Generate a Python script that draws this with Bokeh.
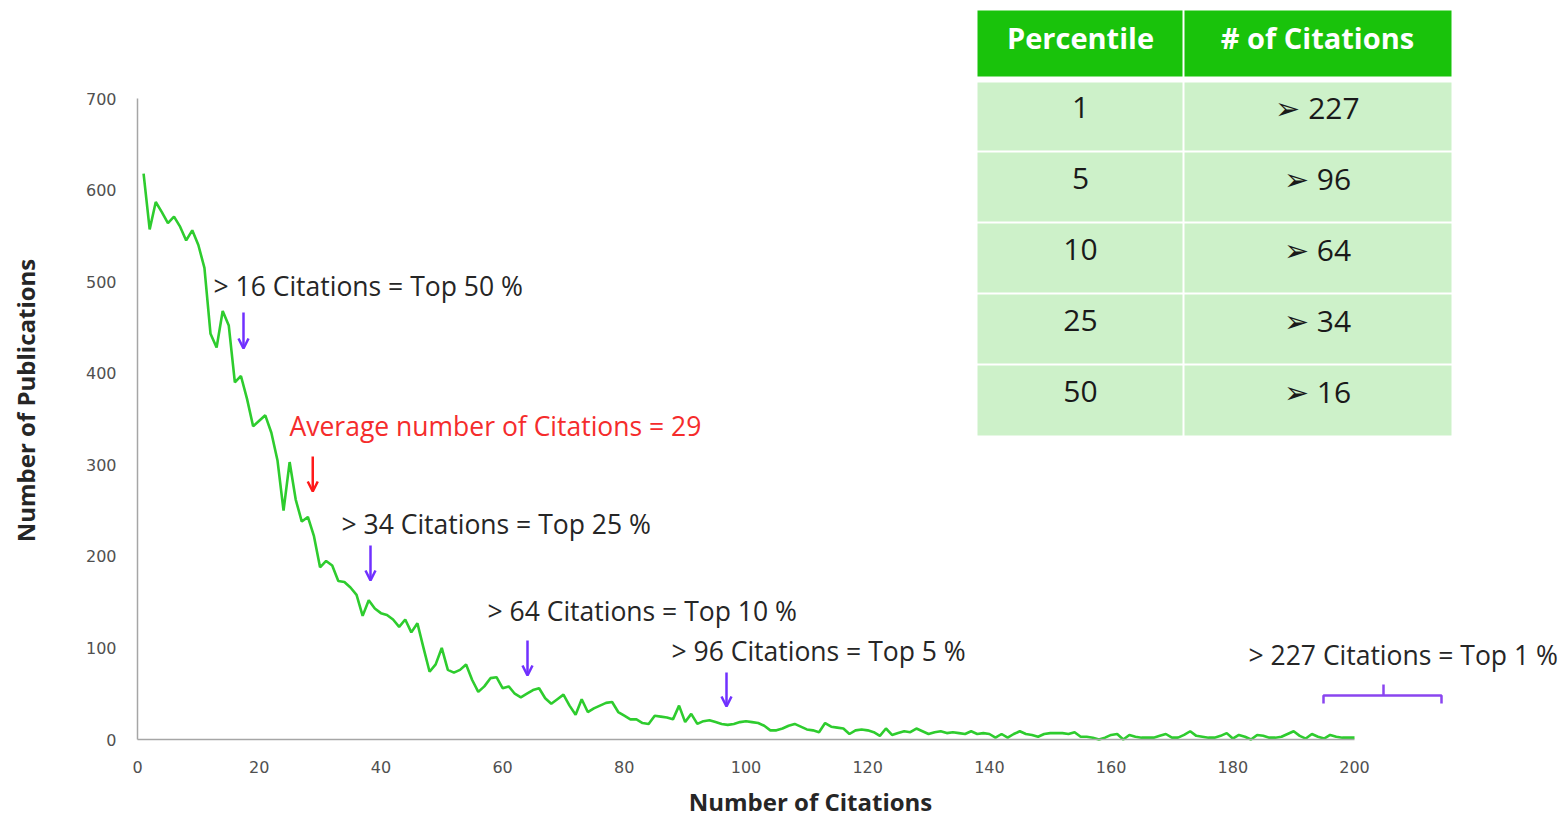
import numpy as np
from bokeh.plotting import figure
from bokeh.models import Range1d, FixedTicker, Arrow, OpenHead, ColumnDataSource, Label
from bokeh.core.properties import value
from bokeh.embed import file_html
from bokeh.resources import INLINE

# ---------------- data ----------------
citations = list(range(1, 201))
publications = [
    618, 557, 587, 576, 564, 571, 560, 545, 556, 540,   # 1-10
    515, 443, 428, 468, 452, 390, 397, 372, 342, 348,   # 11-20
    354, 335, 305, 250, 303, 262, 238, 243, 222, 188,   # 21-30
    195, 190, 173, 172, 166, 158, 135, 152, 143, 138,   # 31-40
    136, 131, 123, 131, 117, 127, 100, 74, 82, 100,     # 41-50
    76, 73, 76, 82, 65, 52, 58, 67, 68, 56,             # 51-60
    58, 50, 46, 50, 54, 56, 45, 39, 44, 49,             # 61-70
    37, 27, 44, 30, 34, 37, 40, 41, 30, 26,             # 71-80
    22, 22, 18, 17, 26, 25, 24, 22, 37, 19,             # 81-90
    28, 17, 20, 21, 19, 17, 16, 17, 19, 20,             # 91-100
    19, 18, 15, 10, 10, 12, 15, 17, 14, 11,             # 101-110
    10, 8, 18, 14, 13, 12, 6, 10, 11, 10,               # 111-120
    8, 4, 12, 5, 7, 9, 8, 12, 9, 6,                     # 121-130
    8, 9, 7, 8, 7, 6, 9, 6, 7, 6,                       # 131-140
    2, 6, 2, 6, 9, 6, 5, 3, 6, 7,                       # 141-150
    7, 7, 6, 8, 3, 3, 2, 0, 2, 5,                       # 151-160
    6, 0, 5, 3, 2, 2, 2, 4, 6, 2,                       # 161-170
    2, 5, 9, 4, 3, 2, 2, 4, 7, 1,                       # 171-180
    5, 3, 0, 5, 4, 2, 2, 3, 6, 9,                       # 181-190
    4, 1, 6, 3, 1, 5, 3, 2, 2, 2,                       # 191-200
]

x_ticks = [0, 20, 40, 60, 80, 100, 120, 140, 160, 180, 200]
y_ticks = [0, 100, 200, 300, 400, 500, 600, 700]

table_header = ["Percentile", "# of Citations"]
percentiles = [1, 5, 10, 25, 50]
citation_thresholds = [227, 96, 64, 34, 16]

average_citations = 29
annotation_texts = [
    "> 16 Citations = Top 50 %",
    "Average number of Citations = 29",
    "> 34 Citations = Top 25 %",
    "> 64 Citations = Top 10 %",
    "> 96 Citations = Top 5 %",
    "> 227 Citations = Top 1 %",
]

# ---------------- layout helpers (canvas pixels -> data) ----------------
W, H = 1565, 819
PX_X0, PX_PER_X = 137.0, 1217.0 / 200.0
PX_Y0, PX_PER_Y = 739.0, 641.0 / 700.0


def dx(px):
    return (px - PX_X0) / PX_PER_X


def dy(py):
    return (PX_Y0 - py) / PX_PER_Y


p = figure(
    width=W, height=H,
    x_range=Range1d(dx(0), dx(W)), y_range=Range1d(dy(H), dy(0)),
    output_backend="svg", toolbar_location=None,
    min_border=0, min_border_left=0, min_border_right=0,
    min_border_top=0, min_border_bottom=0,
)
p.outline_line_color = None
p.grid.visible = False
p.background_fill_color = "white"

for ax, ticks in ((p.xaxis[0], x_ticks), (p.yaxis[0], y_ticks)):
    ax.fixed_location = 0
    ax.ticker = FixedTicker(ticks=ticks)
    ax.bounds = (ticks[0], ticks[-1])
    ax.axis_line_color = "#A6A6A6"
    ax.axis_line_width = 1.5
    ax.major_tick_out = 0
    ax.major_tick_in = 0
    ax.minor_tick_out = 0
    ax.minor_tick_in = 0
    ax.major_label_text_font = "DejaVu Sans"
    ax.major_label_text_font_size = "16px"
    ax.major_label_text_color = "#505050"
p.xaxis.major_label_standoff = 21
p.yaxis.major_label_standoff = 21

# ---------------- curve ----------------
p.line(citations, publications, line_color="#2ECC2E", line_width=2.6)

# ---------------- arrows ----------------
purple = "#7030FF"
red = "#FF1A1A"
arrow_px = [243, 370, 527, 726]
arrow_py = [(312, 348), (545, 580), (640, 675), (672, 706)]
psrc = ColumnDataSource(dict(
    x=[dx(a) for a in arrow_px],
    y0=[dy(a[0]) for a in arrow_py],
    y1=[dy(a[1]) for a in arrow_py],
))
p.add_layout(Arrow(end=OpenHead(line_color=purple, line_width=2.5, size=10),
                   x_start="x", y_start="y0", x_end="x", y_end="y1",
                   source=psrc, line_color=purple, line_width=2.5))
rsrc = ColumnDataSource(dict(x=[average_citations - 0.2], y0=[dy(456)], y1=[dy(491)]))
p.add_layout(Arrow(end=OpenHead(line_color=red, line_width=2.5, size=10),
                   x_start="x", y_start="y0", x_end="x", y_end="y1",
                   source=rsrc, line_color=red, line_width=2.5))

# bracket for top 1 %
bl, br, bm = dx(1323), dx(1441), dx(1383)
p.multi_line(
    xs=[[bl, bl, br, br], [bm, bm]],
    ys=[[dy(703), dy(695), dy(695), dy(703)], [dy(695), dy(684)]],
    line_color="#8A45F0", line_width=2.5,
)

# ---------------- annotation texts ----------------
ann_px = [(213, 285), (289, 425), (341, 523), (487, 610), (671, 650), (1248, 654)]
ann_colors = ["#262626", "#F52C2C", "#262626", "#262626", "#262626", "#262626"]
p.text(
    x=[dx(a[0]) for a in ann_px], y=[dy(a[1]) for a in ann_px],
    text=annotation_texts, text_color=ann_colors,
    text_font=value("Open Sans"), text_font_size="26.5px",
    text_align="left", text_baseline="middle",
)

# ---------------- table ----------------
col_edges = [(977, 1182), (1184, 1451)]
col_centers = [1080, 1317]
header_rows = (10, 76)
row_edges = [(82, 150), (152, 221), (223, 292), (294, 363), (365, 435)]
row_text_py = [107, 178, 249, 320, 391]

p.quad(
    left=[dx(c[0]) for c in col_edges], right=[dx(c[1]) for c in col_edges],
    top=[dy(header_rows[0])] * 2, bottom=[dy(header_rows[1])] * 2,
    fill_color="#19C30B", line_color=None,
)
ql, qr, qt, qb = [], [], [], []
for r in row_edges:
    for c in col_edges:
        ql.append(dx(c[0])); qr.append(dx(c[1]))
        qt.append(dy(r[0])); qb.append(dy(r[1]))
p.quad(left=ql, right=qr, top=qt, bottom=qb, fill_color="#CDF1C9", line_color=None)

p.text(
    x=[dx(c) for c in col_centers], y=[dy(37)] * 2, text=table_header,
    text_color="white", text_font=value("Open Sans"), text_font_style="bold",
    text_font_size="29px", text_align="center", text_baseline="middle",
)
p.text(
    x=[dx(col_centers[0])] * len(percentiles), y=[dy(v) for v in row_text_py],
    text=[str(v) for v in percentiles], text_color="#1A1A1A",
    text_font=value("Open Sans"), text_font_size="30px",
    text_align="center", text_baseline="middle",
)
p.text(
    x=[dx(col_centers[1])] * len(citation_thresholds), y=[dy(v) for v in row_text_py],
    text=["\u27a2 " + str(v) for v in citation_thresholds], text_color="#1A1A1A",
    text_font=value("Open Sans"), text_font_size="30px",
    text_align="center", text_baseline="middle",
)

# ---------------- axis titles ----------------
p.add_layout(Label(x=dx(25), y=dy(400), text="Number of Publications", angle=np.pi / 2,
                   text_align="center", text_baseline="middle", text_font="Open Sans",
                   text_font_style="bold", text_font_size="24px", text_color="#262626"))
p.add_layout(Label(x=dx(810), y=dy(801), text="Number of Citations",
                   text_align="center", text_baseline="middle", text_font="Open Sans",
                   text_font_style="bold", text_font_size="24px", text_color="#262626"))

open("out.html", "w").write(file_html(p, INLINE))
